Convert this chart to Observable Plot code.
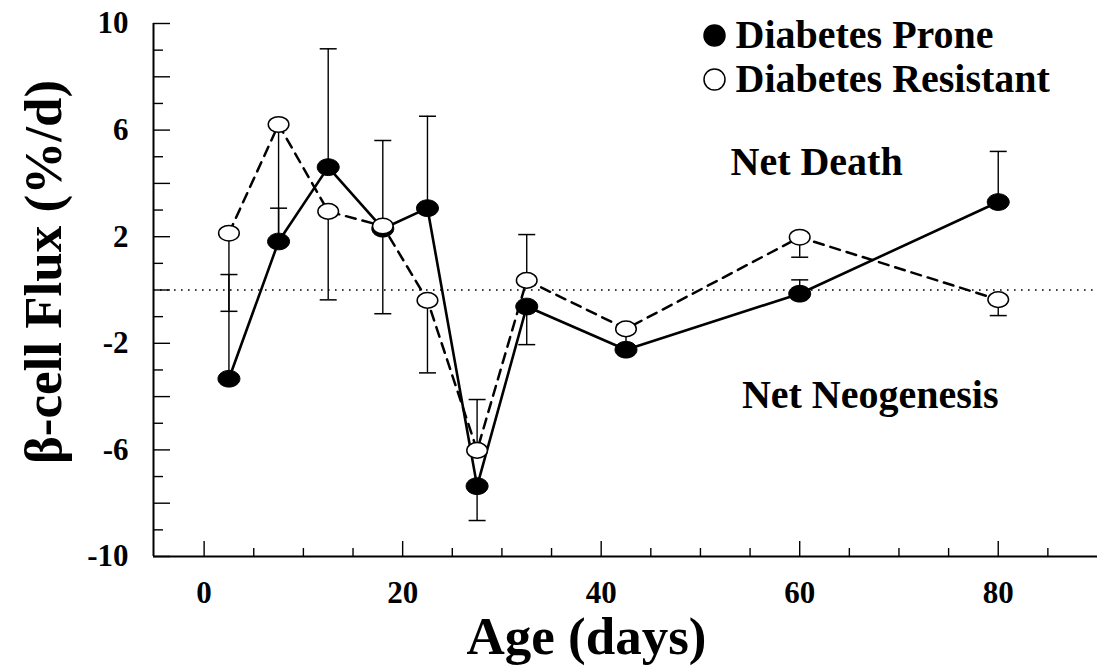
<!DOCTYPE html>
<html>
<head>
<meta charset="utf-8">
<script src="https://cdn.jsdelivr.net/npm/d3@7"></script>
<script src="https://cdn.jsdelivr.net/npm/@observablehq/plot@0.6"></script>
<style>
  html, body { margin: 0; padding: 0; background: #fff; }
</style>
</head>
<body>
<div id="chart"></div>
<script>
// Age at sampling (days)
const ages = [2.5, 7.5, 12.5, 18, 22.5, 27.5, 32.5, 42.5, 60, 80];

// Mean beta-cell flux (%/d)
const prone     = [-3.33, 1.82, 4.61, 2.30, 3.07, -7.36, -0.62, -2.24, -0.14, 3.30];
const resistant = [ 2.13, 6.21, 2.95, 2.40, -0.39, -6.02, 0.36, -1.46, 1.98, -0.36];

// End of each one-sided error bar (null = none drawn)
const proneErrEnd     = [0.58, 3.07, 9.05, 5.61, 6.52, -8.65, -2.05, null, 0.38, 5.20];
const resistantErrEnd = [-0.80, 1.85, -0.37, -0.89, -3.11, -4.11, 2.08, -2.10, 1.23, -0.96];

const seriesNames = ["Diabetes Prone", "Diabetes Resistant"];

// Axis ticks
const yLabelTicks = [10, 6, 2, -2, -6, -10];
const yMajorTicks = [-10, -8, -6, -4, -2, 0, 2, 4, 6, 8, 10];
const yMinorTicks = [-9, -7, -5, -3, -1, 1, 3, 5, 7, 9];
const xLabelTicks = [0, 20, 40, 60, 80];
const xMinorTicks = [5, 10, 15, 25, 30, 35, 45, 50, 55, 65, 70, 75, 85];

const xDomain = [-5.1, 90];
const yDomain = [-10, 10];

const xTitle = "Age (days)";
const yTitle = "β-cell Flux (%/d)";

// Region annotations
const annotations = [
  {label: "Net Death", x: 61.7, y: 4.8},
  {label: "Net Neogenesis", x: 67.1, y: -3.96}
];

const proneRows = ages.map((age, i) => ({age, flux: prone[i], err: proneErrEnd[i]}));
const resistantRows = ages.map((age, i) => ({age, flux: resistant[i], err: resistantErrEnd[i]}));
const barRows = [...proneRows, ...resistantRows].filter(d => d.err != null);

// Slightly flattened marker, as in the printed figure
const ellipse = {
  draw(ctx, size) {
    const rx = Math.sqrt(size / Math.PI), ry = rx * 0.76, k = 0.5523;
    ctx.moveTo(rx, 0);
    ctx.bezierCurveTo(rx, k * ry, k * rx, ry, 0, ry);
    ctx.bezierCurveTo(-k * rx, ry, -rx, k * ry, -rx, 0);
    ctx.bezierCurveTo(-rx, -k * ry, -k * rx, -ry, 0, -ry);
    ctx.bezierCurveTo(k * rx, -ry, rx, -k * ry, rx, 0);
    ctx.closePath();
  }
};

// Horizontal cap at the end of an error bar
const cap = {
  draw(ctx, size) {
    const r = Math.sqrt(size / Math.PI);
    ctx.moveTo(-r, 0);
    ctx.lineTo(r, 0);
  }
};

const fmt = d => String(d);
const blank = () => "";

const chart = Plot.plot({
  width: 1097,
  height: 667,
  marginLeft: 153,
  marginRight: 0,
  marginTop: 23,
  marginBottom: 111,
  x: {domain: xDomain},
  y: {domain: yDomain},
  style: {fontFamily: "'Liberation Serif', 'Times New Roman', serif", fontWeight: "bold", background: "white", color: "black"},
  marks: [
    // zero reference
    Plot.ruleY([0], {strokeDasharray: "1.6,5.4", strokeWidth: 1.4}),

    // axes lines
    Plot.ruleX([xDomain[0]], {strokeWidth: 2}),
    Plot.ruleY([yDomain[0]], {strokeWidth: 2}),

    // y ticks (inward)
    Plot.axisY({ticks: yMajorTicks, tickSize: -17, tickFormat: blank, label: null, strokeWidth: 1.4}),
    Plot.axisY({ticks: yMinorTicks, tickSize: -10, tickFormat: blank, label: null, strokeWidth: 1.4}),
    Plot.axisY({ticks: yLabelTicks, tickSize: 0, tickPadding: 25, tickFormat: fmt, fontSize: 31, label: null}),

    // x ticks (inward)
    Plot.axisX({ticks: xLabelTicks, tickSize: -15, tickFormat: blank, label: null, strokeWidth: 1.4}),
    Plot.axisX({ticks: xMinorTicks, tickSize: -8, tickFormat: blank, label: null, strokeWidth: 1.4}),
    Plot.axisX({ticks: xLabelTicks, tickSize: 0, tickPadding: 24, tickFormat: fmt, fontSize: 31, label: null}),

    // axis titles
    Plot.text([xTitle], {text: d => d, frameAnchor: "bottom", dx: -39, dy: 81, fontSize: 53, lineAnchor: "middle"}),
    Plot.text([yTitle], {text: d => d, frameAnchor: "left", rotate: -90, dx: -109, dy: -18, fontSize: 53,
      textAnchor: "middle", lineAnchor: "middle"}),

    // error bars
    Plot.ruleX(barRows, {x: "age", y1: "flux", y2: "err", strokeWidth: 1.4}),
    Plot.dot(barRows, {x: "age", y: "err", symbol: cap, r: 8.5, stroke: "black", fill: "none", strokeWidth: 1.5}),

    // series lines
    Plot.line(proneRows, {x: "age", y: "flux", strokeWidth: 2.6}),
    Plot.line(resistantRows, {x: "age", y: "flux", strokeWidth: 2.5, strokeDasharray: "10,7"}),

    // markers
    Plot.dot(proneRows, {x: "age", y: "flux", symbol: ellipse, r: 11, fill: "black", stroke: "black", strokeWidth: 1}),
    Plot.dot(resistantRows, {x: "age", y: "flux", symbol: ellipse, r: 10.3, fill: "white", stroke: "black", strokeWidth: 1.5}),

    // annotations
    Plot.text(annotations, {x: "x", y: "y", text: "label", fontSize: 40}),

    // legend
    ...seriesNames.flatMap((name, i) => [
      Plot.dot([name], {frameAnchor: "top-right", dx: -383, dy: 12 + i * 44, r: 10.5, symbol: "circle",
        fill: i === 0 ? "black" : "white", stroke: "black", strokeWidth: 1.5}),
      Plot.text([name], {text: d => d, frameAnchor: "top-right", dx: -362, dy: 12 + i * 44,
        textAnchor: "start", lineAnchor: "middle", fontSize: 40})
    ])
  ]
});

document.getElementById("chart").append(chart);
</script>
</body>
</html>
